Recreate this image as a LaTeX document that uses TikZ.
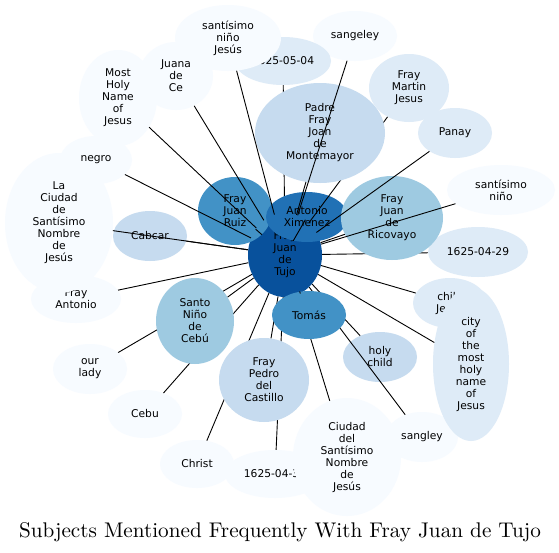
\documentclass[tikz,border=0pt]{standalone}
\usepackage{fontspec}
\setmainfont{Latin Modern Roman}
\newfontfamily\nodefont{DejaVu Sans}
\newfontfamily\titlefont{lmroman10-regular}[Extension=.otf]
\usetikzlibrary{shapes.geometric}
\definecolor{ca}{HTML}{F7FBFF}
\definecolor{cb}{HTML}{DEEBF7}
\definecolor{cc}{HTML}{C6DBEF}
\definecolor{cd}{HTML}{9ECAE1}
\definecolor{ce}{HTML}{4292C6}
\definecolor{cf}{HTML}{2171B5}
\definecolor{cg}{HTML}{08519C}
\tikzset{
  nd/.style={ellipse, inner sep=0pt, align=center, draw=none, text=black,
    font={\nodefont\fontsize{10.7}{12}\selectfont}},
  sz/.style 2 args={minimum width=#1*2pt, minimum height=#2*2pt},
  edge/.style={draw=black, line width=0.9pt},
  ttl/.style={font={\titlefont\fontsize{21.2}{24}\selectfont}, anchor=base, inner sep=0pt}
}
\begin{document}
\begin{tikzpicture}[x=1pt,y=-1pt]
\useasboundingbox[fill=white] (0,0) rectangle (559,552);
% center
\node[nd, sz={37}{42}, fill=cg] (T) at (285,255) {Fray\\Juan\\de\\Tujo};
\node[nd, sz={37}{34}, fill=ce] (FJR) at (235,211) {Fray\\Juan\\Ruiz};
\node[nd, sz={42}{25}, fill=ca] (SGL) at (355,36) {sangeley};
\node[nd, sz={48}{24}, fill=cb] (D0504) at (283,61) {1625-05-04};
\draw[edge] (T) -- (D0504);
\node[nd, sz={41}{25}, fill=cf] (AX) at (307,217) {Antonio\\Ximenez};
\node[nd, sz={40}{34}, fill=cb] (FM) at (409,88) {Fray\\Martin\\Jesus};
\draw[edge] (T) -- (FM);
\node[nd, sz={65}{50}, fill=cc] (P) at (320,133) {Padre\\Fray\\Joan\\de\\Montemayor};
\draw[edge] (T) -- (P);
\draw[edge] (T) -- (SGL);
\node[nd, sz={53}{33}, fill=ca] (SNJ) at (228,38) {santísimo\\niño\\Jesús};
\draw[edge] (T) -- (SNJ);
\node[nd, sz={37}{34}, fill=ca] (JC) at (176,76) {Juana\\de\\Ce};
\draw[edge] (T) -- (JC);
\node[nd, sz={39}{48}, fill=ca] (MH) at (118,98) {Most\\Holy\\Name\\of\\Jesus};
\draw[edge] (T) -- (MH);
\node[nd, sz={45}{24}, fill=ca] (FA) at (76,299) {Fray\\Antonio};
\node[nd, sz={54}{70}, fill=ca] (LC) at (59,223) {La\\Ciudad\\de\\Santísimo\\Nombre\\de\\Jesús};
\node[nd, sz={36}{24}, fill=ca] (NG) at (96,160) {negro};
\draw[edge] (T) -- (NG);
\node[nd, sz={37}{25}, fill=cc] (CB) at (150,236) {Cabcar};
\draw[edge] (T) -- (LC);
\draw[edge] (T) -- (CB);
\draw[edge] (T) -- (FA);
\node[nd, sz={37}{25}, fill=ca] (OL) at (90,369) {our\\lady};
\node[nd, sz={37}{24}, fill=ca] (CE) at (145,414) {Cebu};
\draw[edge] (T) -- (OL);
\draw[edge] (T) -- (CE);
\node[nd, sz={39}{43}, fill=cd] (SN) at (195,321) {Santo\\Niño\\de\\Cebú};
\draw[edge] (T) -- (SN);
\node[nd, sz={37}{24}, fill=ca] (CH) at (197,464) {Christ};
\node[nd, sz={50}{24}, fill=ca] (D04x) at (275,474) {1625-04-30};
\draw[edge] (T) -- (CH);
\draw[edge] (T) -- (D04x);
\node[nd, sz={45}{42}, fill=cc] (FP) at (264,380) {Fray\\Pedro\\del\\Castillo};
\draw[edge] (T) -- (FP);
\node[nd, sz={37}{25}, fill=cc] (HC) at (380,357) {holy\\child};
\draw[edge] (T) -- (HC);
\node[nd, sz={36}{25}, fill=ca] (SY) at (422,437) {sangley};
\draw[edge] (T) -- (SY);
\node[nd, sz={54}{59}, fill=ca] (CS) at (347,457) {Ciudad\\del\\Santísimo\\Nombre\\de\\Jesús};
\draw[edge] (T) -- (CS);
\node[nd, sz={37}{24}, fill=ce] (TO) at (309,315) {Tomás};
\draw[edge] (T) -- (TO);
\node[nd, sz={37}{25}, fill=cb] (CJ) at (450,303) {child\\Jesus};
\draw[edge] (T) -- (CJ);
\node[nd, sz={38}{77}, fill=cb] (CT) at (471,364) {city\\of\\the\\most\\holy\\name\\of\\Jesus};
\draw[edge] (T) -- (CT);
\node[nd, sz={50}{25}, fill=cb] (D0429) at (478,252) {1625-04-29};
\draw[edge] (T) -- (D0429);
\node[nd, sz={37}{25}, fill=cb] (PN) at (455,133) {Panay};
\node[nd, sz={54}{25}, fill=ca] (SR) at (501,190) {santísimo\\niño};
\node[nd, sz={51}{42}, fill=cd] (RV) at (392,218) {Fray\\Juan\\de\\Ricovayo};
\draw[edge] (T) -- (RV);
\draw[edge] (T) -- (SR);
\draw[edge] (T) -- (PN);
\draw[edge] (T) -- (AX);
\draw[edge] (T) -- (FJR);
\node[ttl] (title) at (280,537) {Subjects Mentioned Frequently With Fray Juan de Tujo};
\end{tikzpicture}
\end{document}
